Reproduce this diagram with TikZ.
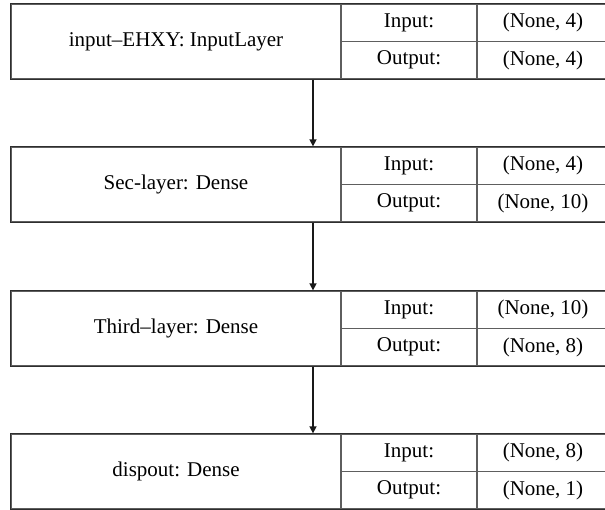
\documentclass[tikz,border=0pt]{standalone}
\usepackage{fontspec}
\setmainfont{Liberation Serif}
\usetikzlibrary{arrows.meta}
\definecolor{frameC}{HTML}{2E2E2E}
\definecolor{innerC}{HTML}{5E5E5E}
\tikzset{
  cellbox/.style={draw=innerC, line width=1.3pt, inner sep=0pt, anchor=center,
     font=\fontsize{21}{24}\selectfont},
  namecell/.style={cellbox, minimum width=330pt, minimum height=75pt},
  labcell/.style={cellbox, minimum width=136pt, minimum height=37.5pt},
  valcell/.style={cellbox, minimum width=132pt, minimum height=37.5pt, xshift=2pt},
  outerframe/.style={draw=frameC, line width=1.5pt},
  flowarrow/.style={draw=black!90, line width=1.5pt, -{Triangle[width=7pt,length=7pt]}}
}
\begin{document}
\begin{tikzpicture}[x=1pt,y=-1pt]
\useasboundingbox (0,0) rectangle (605,509);
\fill[white] (0,0) rectangle (605,509);
% box 1
\node[namecell] (n1) at (176,41.5) {input–EHXY: InputLayer};
\node[labcell] (i1) at (409,22.75) {Input:};
\node[labcell] (o1) at (409,60.25) {Output:};
\node[valcell] (vi1) at (541,22.75) {(None, 4)};
\node[valcell] (vo1) at (541,60.25) {(None, 4)};
\draw[outerframe] (n1.north west) rectangle (vo1.south east);
% box 2
\node[namecell] (n2) at (176,184.5) {Sec-layer: Dense};
\node[labcell] (i2) at (409,165.75) {Input:};
\node[labcell] (o2) at (409,203.25) {Output:};
\node[valcell] (vi2) at (541,165.75) {(None, 4)};
\node[valcell] (vo2) at (541,203.25) {(None, 10)};
\draw[outerframe] (n2.north west) rectangle (vo2.south east);
% box 3
\node[namecell] (n3) at (176,328.5) {Third–layer: Dense};
\node[labcell] (i3) at (409,309.75) {Input:};
\node[labcell] (o3) at (409,347.25) {Output:};
\node[valcell] (vi3) at (541,309.75) {(None, 10)};
\node[valcell] (vo3) at (541,347.25) {(None, 8)};
\draw[outerframe] (n3.north west) rectangle (vo3.south east);
% box 4
\node[namecell] (n4) at (176,471.5) {dispout: Dense};
\node[labcell] (i4) at (409,452.75) {Input:};
\node[labcell] (o4) at (409,490.25) {Output:};
\node[valcell] (vi4) at (541,452.75) {(None, 8)};
\node[valcell] (vo4) at (541,490.25) {(None, 1)};
\draw[outerframe] (n4.north west) rectangle (vo4.south east);
% arrows
\coordinate (ax) at (313,0);
\draw[flowarrow] (n1.south -| ax) -- (n2.north -| ax);
\draw[flowarrow] (n2.south -| ax) -- (n3.north -| ax);
\draw[flowarrow] (n3.south -| ax) -- (n4.north -| ax);
\end{tikzpicture}
\end{document}
